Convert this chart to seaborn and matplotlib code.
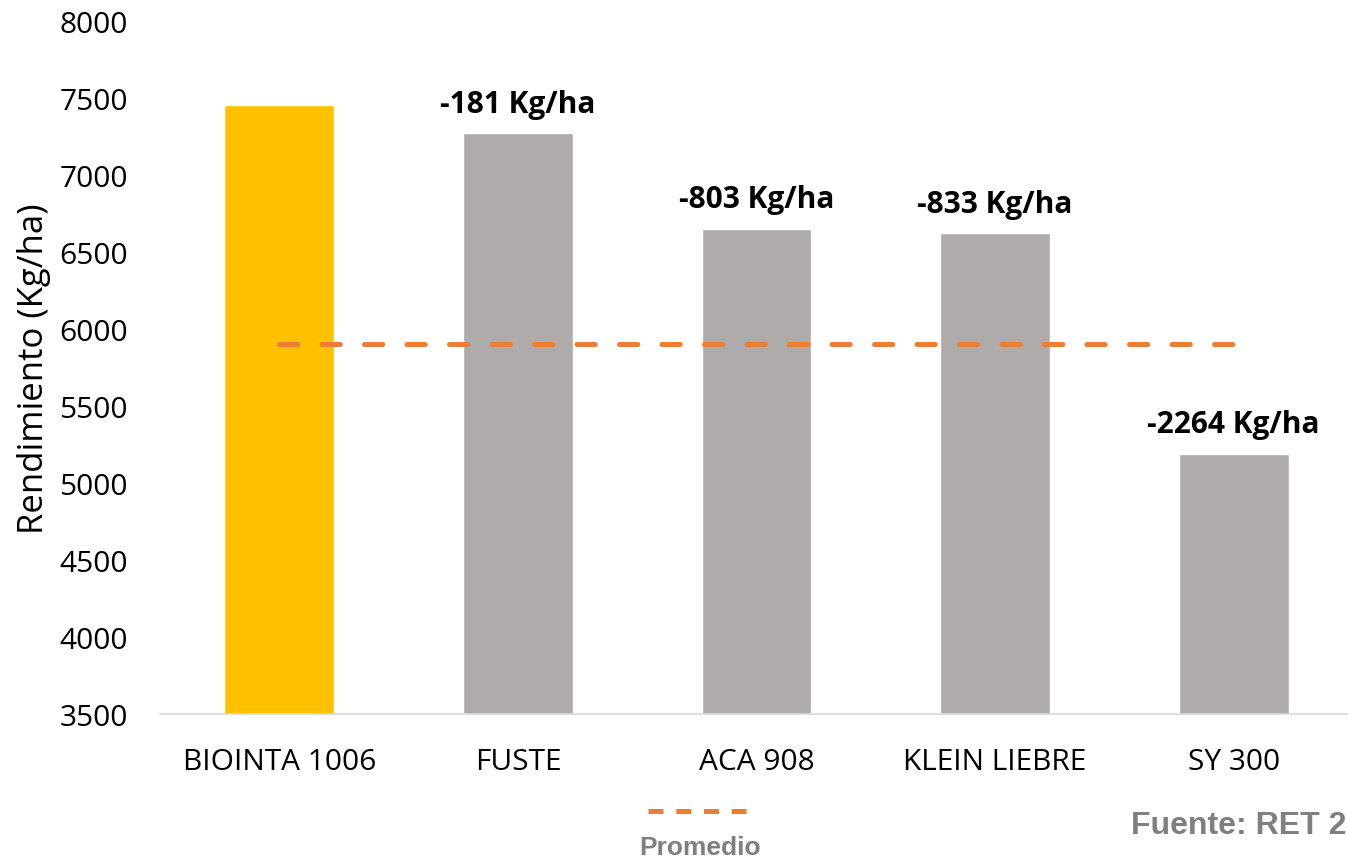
import matplotlib
matplotlib.use("Agg")
import matplotlib.pyplot as plt
import seaborn as sns
import numpy as np
import pandas as pd
from matplotlib.lines import Line2D

# datos
variedades = ["BIOINTA 1006", "FUSTE", "ACA 908", "KLEIN LIEBRE", "SY 300"]
rendimiento = [7455, 7274, 6652, 6622, 5191]
diferencias = ["", "-181 Kg/ha", "-803 Kg/ha", "-833 Kg/ha", "-2264 Kg/ha"]
promedio = 5900
colores = ["#FFC000", "#AFABAB", "#AFABAB", "#AFABAB", "#AFABAB"]

sns.set_theme(style="white")
plt.rcParams['font.family'] = ['Open Sans', 'DejaVu Sans']

df = pd.DataFrame({"variedad": variedades, "rend": rendimiento})

fig = plt.figure(figsize=(13.48, 8.62), dpi=100)
ax = fig.add_axes([160 / 1348, 1 - 715 / 862, (1353 - 160) / 1348, (715 - 22) / 862])

sns.barplot(data=df, x="variedad", y="rend", hue="variedad", palette=colores,
            width=0.46, saturation=1, legend=False, ax=ax)

# línea de promedio
xs = np.arange(len(variedades))
ax.plot(xs, [promedio] * len(xs), color="#ED7D31", lw=3.6,
        dashes=(3.66, 4.84), dash_capstyle="round")

# etiquetas de diferencia
for i, (v, txt) in enumerate(zip(rendimiento, diferencias)):
    if txt:
        ax.annotate(txt, (i, v), xytext=(0, 21), textcoords="offset points",
                    ha="center", va="center", fontsize=21.5, fontweight="bold",
                    color="black")

ax.set_ylim(3500, 8000)
ax.set_yticks(range(3500, 8001, 500))
ax.set_xlim(-0.5, len(variedades) - 0.5)
ax.set_xlabel("")
ax.set_ylabel("Rendimiento (Kg/ha)", fontsize=25, color="black", labelpad=6)
ax.tick_params(axis="both", labelsize=21.5, colors="black", length=0)
ax.tick_params(axis="x", pad=24)
ax.tick_params(axis="y", pad=23)
for s in ["top", "right", "left"]:
    ax.spines[s].set_visible(False)
ax.spines["bottom"].set_color("#D9D9D9")
ax.spines["bottom"].set_linewidth(1.2)

# leyenda manual
fig.add_artist(Line2D([648 / 1348, 746 / 1348], [1 - 812 / 862, 1 - 812 / 862],
                      transform=fig.transFigure, color="#ED7D31", lw=3.6,
                      dashes=(3.0, 2.55), dash_capstyle="butt"))
fig.text(700 / 1348, 1 - 848 / 862, "Promedio", ha="center", va="center",
         fontsize=19, fontweight="bold", color="#7F7F7F",
         family=["Liberation Sans", "DejaVu Sans"])
fig.text(1346 / 1348, 1 - 826 / 862, "Fuente: RET 2", ha="right", va="center",
         fontsize=23, fontweight="bold", color="#7F7F7F",
         family=["Liberation Sans", "DejaVu Sans"])

fig.savefig("out.png", dpi=100)
